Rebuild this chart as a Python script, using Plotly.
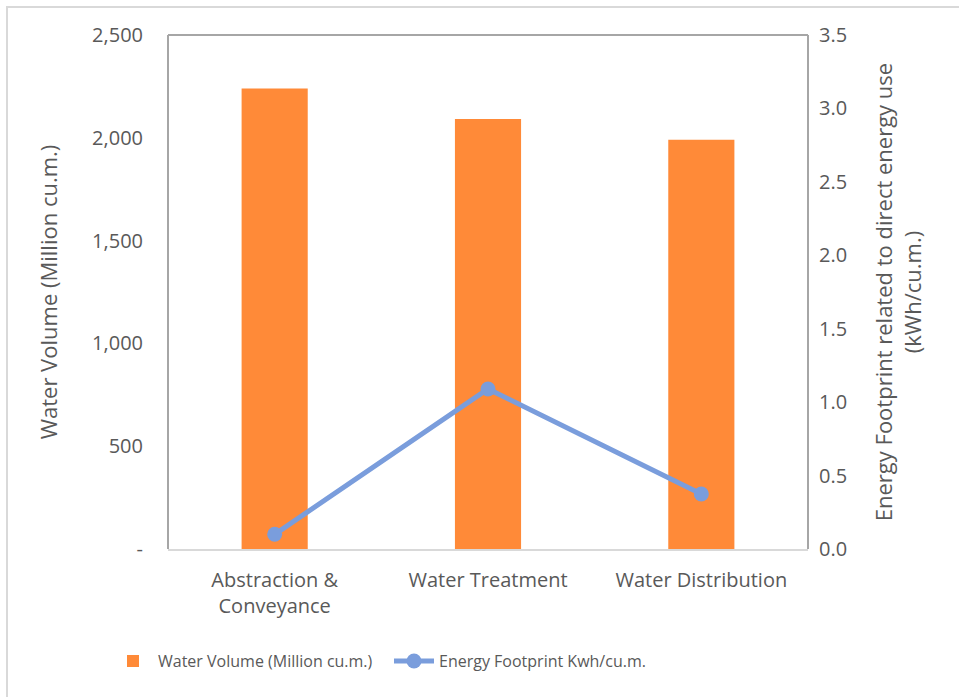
import plotly.graph_objects as go

categories = ["Abstraction &<br>Conveyance", "Water Treatment", "Water Distribution"]
water_volume = [2240, 2092, 1990]          # Million cu.m.
energy_footprint = [0.10, 1.09, 0.375]     # kWh/cu.m.

left_ticks = [0, 500, 1000, 1500, 2000, 2500]
left_tick_text = ["-", "500", "1,000", "1,500", "2,000", "2,500"]
right_ticks = [0.0, 0.5, 1.0, 1.5, 2.0, 2.5, 3.0, 3.5]
right_tick_text = ["0.0", "0.5", "1.0", "1.5", "2.0", "2.5", "3.0", "3.5"]

FONT = "Open Sans, Noto Sans, sans-serif"
TEXT = "#595959"
ORANGE = "#FF8A38"
BLUE = "#7A9DDC"

fig = go.Figure()
fig.add_trace(go.Bar(
    x=categories, y=water_volume, name="Water Volume (Million cu.m.)",
    marker=dict(color=ORANGE, line=dict(width=0)), width=0.31, yaxis="y",
))
fig.add_trace(go.Scatter(
    x=categories, y=energy_footprint, name="Energy Footprint Kwh/cu.m.",
    mode="lines+markers", line=dict(color=BLUE, width=5),
    marker=dict(color=BLUE, size=15), yaxis="y2",
))

fig.update_layout(
    width=959, height=697,
    margin=dict(l=168, r=151, t=35, b=148),
    paper_bgcolor="white", plot_bgcolor="white",
    font=dict(family=FONT, size=20, color=TEXT),
    showlegend=True,
    legend=dict(orientation="h", x=(108 - 168) / 640, xanchor="left", y=-0.185, yanchor="top",
                font=dict(size=16, color=TEXT), itemwidth=40, tracegroupgap=0,
                entrywidthmode="pixels", entrywidth=226),
    xaxis=dict(showgrid=False, showline=True, linecolor="#D9D9D9", linewidth=2,
               ticks="", tickfont=dict(size=20, color=TEXT), ticklabelstandoff=12,
               fixedrange=True),
    yaxis=dict(range=[0, 2500], tickvals=left_ticks, ticktext=left_tick_text,
               showgrid=False, zeroline=False, showline=False, ticks="",
               tickfont=dict(size=20, color=TEXT), ticklabelstandoff=24,
               title=dict(text="Water Volume (Million cu.m.)", font=dict(size=22, color=TEXT),
                          standoff=28)),
    yaxis2=dict(range=[0, 3.5], tickvals=right_ticks, ticktext=right_tick_text,
                overlaying="y", side="right", showgrid=False, zeroline=False,
                showline=False, ticks="", tickfont=dict(size=20, color=TEXT),
                ticklabelstandoff=10,
                title=dict(text="Energy Footprint related to direct energy use<br>(kWh/cu.m.)",
                           font=dict(size=22, color=TEXT), standoff=30)),
)

# plot-area frame (left, top, right) and outer chart border
frame = dict(color="#A6A6A6", width=2)
fig.add_shape(type="line", xref="paper", yref="paper", x0=0, x1=0, y0=0, y1=1, line=frame)
fig.add_shape(type="line", xref="paper", yref="paper", x0=0, x1=1, y0=1, y1=1, line=frame)
fig.add_shape(type="line", xref="paper", yref="paper", x0=1, x1=1, y0=0, y1=1, line=frame)
fig.add_shape(type="rect", xref="paper", yref="paper",
              x0=(7 - 168) / 640, x1=(970 - 168) / 640,
              y0=(549 - 710) / 514, y1=(549 - 7) / 514,
              line=dict(color="#D9D9D9", width=2), layer="below")

fig.write_html("out.html")
